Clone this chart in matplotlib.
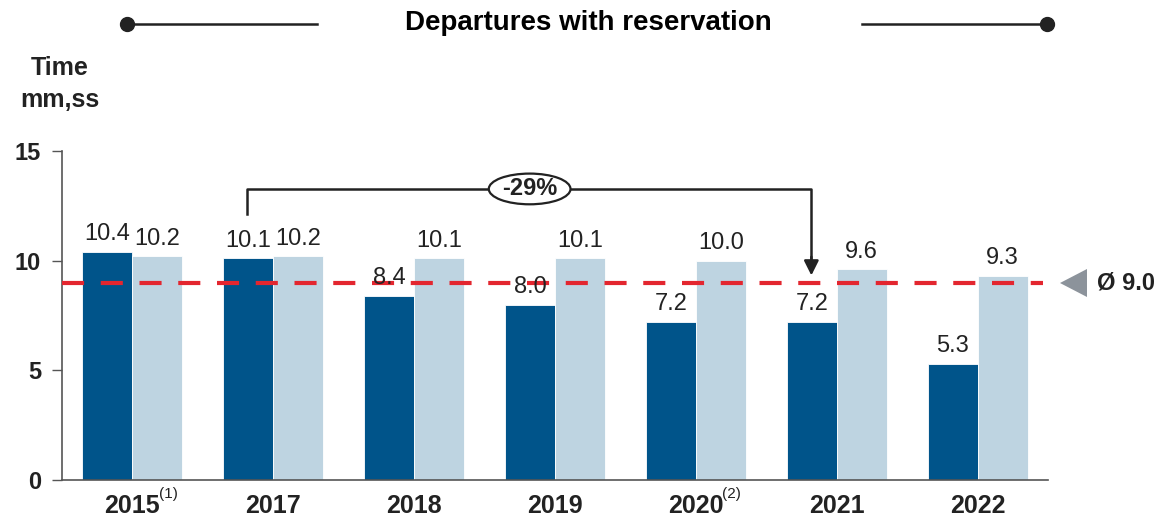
import numpy as np
import matplotlib.pyplot as plt
from matplotlib.patches import Ellipse, Polygon
from matplotlib.lines import Line2D

# data
years = ['2015', '2017', '2018', '2019', '2020', '2021', '2022']
year_notes = ['(1)', '', '', '', '(2)', '', '']
with_res = [10.4, 10.1, 8.4, 8.0, 7.2, 7.2, 5.3]
other = [10.2, 10.2, 10.1, 10.1, 10.0, 9.6, 9.3]
avg = 9.0
change_label = '-29%'

dark = '#00548A'
light = '#BED4E1'
red = '#E3262F'
grey_tri = '#8C939B'
txt = '#222222'

plt.rcParams['font.family'] = ['Liberation Sans', 'DejaVu Sans']

fig = plt.figure(figsize=(11.6, 5.22), dpi=100)
ax = fig.add_axes([62 / 1160, 42 / 522, (1048 - 62) / 1160, (480 - 151) / 522])

x = np.arange(len(years))
w = 0.355
ax.bar(x - w / 2, with_res, w, color=dark, edgecolor='white', linewidth=0.6, zorder=2)
ax.bar(x + w / 2, other, w, color=light, edgecolor='white', linewidth=0.6, zorder=2)

for xi, v in zip(x, with_res):
    ax.text(xi - w / 2, v + 0.3, f'{v:.1f}', ha='center', va='bottom', fontsize=17, color=txt, zorder=4)
for xi, v in zip(x, other):
    ax.text(xi + w / 2, v + 0.3, f'{v:.1f}', ha='center', va='bottom', fontsize=17, color=txt, zorder=4)

# average line
ax.axhline(avg, color=red, linewidth=3, linestyle=(0, (5.3, 4)), zorder=3, xmax=0.995)

ax.set_xlim(-0.5, 6.5)
ax.set_ylim(0, 15)
ax.set_yticks([0, 5, 10, 15])
ax.set_yticklabels(['0', '5', '10', '15'], fontsize=17, fontweight='bold', color=txt)
ax.tick_params(axis='y', length=7, width=1, color='#555555', pad=8)
ax.set_xticks(x)
ax.set_xticklabels([])
ax.tick_params(axis='x', length=0)
for s in ['top', 'right']:
    ax.spines[s].set_visible(False)
for s in ['left', 'bottom']:
    ax.spines[s].set_color('#555555')
    ax.spines[s].set_linewidth(1.2)

# year labels
for xi, y, n in zip(x, years, year_notes):
    ax.annotate(y, (xi, 0), xytext=(0, -19), textcoords='offset points', ha='center', va='center',
                fontsize=18, fontweight='bold', color=txt, annotation_clip=False)
    if n:
        ax.annotate(n, (xi, 0), xytext=(19, -10), textcoords='offset points', ha='left', va='center',
                    fontsize=11, color=txt, annotation_clip=False)

# bracket with -29%
x_left = 0.81
x_right = 4.82
yb = 13.27
ax.plot([x_left, x_left, x_right, x_right], [12.15, yb, yb, 9.9],
        color=txt, linewidth=1.8, zorder=5, clip_on=False)
ax.annotate('', xy=(x_right, 9.2), xytext=(x_right, 10.3),
            arrowprops=dict(arrowstyle='-|>', color=txt, lw=1.8, mutation_scale=22), zorder=5)
ex = 2.82
ax.add_patch(Ellipse((ex, yb), 0.58, 1.4, facecolor='white', edgecolor=txt, linewidth=1.6, zorder=6))
ax.text(ex, yb, change_label, ha='center', va='center', fontsize=17, fontweight='bold', color=txt, zorder=7)

# average marker (pixel coords)
tri = Polygon([[1087, 522 - 269], [1087, 522 - 297], [1060, 522 - 283]], closed=True, transform=None,
              facecolor=grey_tri, edgecolor='none')
fig.patches.append(tri)
fig.text(1097 / 1160, 1 - 283 / 522, 'Ø 9.0', ha='left', va='center', fontsize=17, fontweight='bold',
         color=txt)

# title with lines
fig.text(588 / 1160, 1 - 23 / 522, 'Departures with reservation', ha='center', va='center',
         fontsize=20, fontweight='bold', color='black')
for xa, xb in [(127, 317), (862, 1047)]:
    fig.add_artist(Line2D([xa / 1160, xb / 1160], [1 - 24 / 522] * 2, color='#222222', linewidth=1.8))
for xd in [127, 1047]:
    fig.add_artist(Line2D([xd / 1160], [1 - 24 / 522], marker='o', markersize=10, color='#222222'))

fig.text(60 / 1160, 1 - 68 / 522, 'Time', ha='center', va='center', fontsize=18, fontweight='bold',
         color=txt)
fig.text(60 / 1160, 1 - 100 / 522, 'mm,ss', ha='center', va='center', fontsize=18, fontweight='bold',
         color=txt)

fig.savefig('out.png', dpi=100)
